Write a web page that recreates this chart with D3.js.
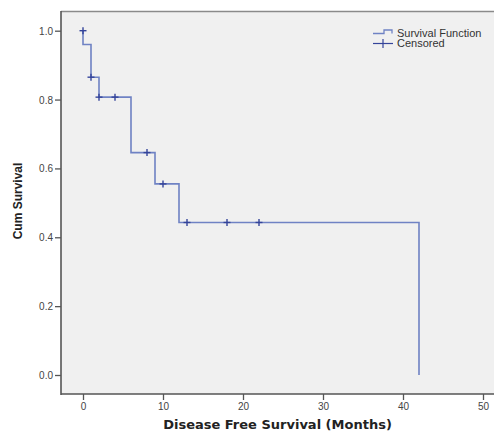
<!DOCTYPE html>
<html>
<head>
<meta charset="utf-8">
<script src="https://cdn.jsdelivr.net/npm/d3@7"></script>
<style>
  body { margin: 0; background: #fff; }
  svg { display: block; font-family: "Liberation Sans", Arial, sans-serif; }
</style>
</head>
<body>
<svg id="chart" width="494" height="432"></svg>
<script>
// Kaplan-Meier steps
const eventTimes = [0, 1, 2, 6, 9, 12, 42];
const survAfter = [0.96, 0.865, 0.807, 0.646, 0.555, 0.443, 0.0];
const censorTimes = [0, 1, 2, 4, 8, 10, 13, 18, 22];
const censorSurv = [1.0, 0.865, 0.807, 0.807, 0.646, 0.555, 0.443, 0.443, 0.443];
const xTicks = [0, 10, 20, 30, 40, 50];
const yTicks = [0.0, 0.2, 0.4, 0.6, 0.8, 1.0];

const svg = d3.select("#chart");

const x = d3.scaleLinear().domain([0, 50]).range([83, 483]);
const y = d3.scaleLinear().domain([0, 1]).range([375, 30.7]);

const plotLeft = 61, plotTop = 11, plotBottom = 394, plotRight = 500;

// plot background
svg.append("rect")
  .attr("x", plotLeft).attr("y", plotTop)
  .attr("width", plotRight - plotLeft).attr("height", plotBottom - plotTop)
  .attr("fill", "#f0f0f0");

svg.append("line")
  .attr("x1", plotLeft).attr("x2", plotRight)
  .attr("y1", plotTop + 0.5).attr("y2", plotTop + 0.5)
  .attr("stroke", "#8a8a8a").attr("stroke-width", 1.5);

// axes
const yAxis = svg.append("g")
  .attr("transform", `translate(${plotLeft},0)`)
  .call(d3.axisLeft(y).tickValues(yTicks).tickFormat(d3.format(".1f")).tickSize(6).tickSizeOuter(0));
const xAxis = svg.append("g")
  .attr("transform", `translate(0,${plotBottom})`)
  .call(d3.axisBottom(x).tickValues(xTicks).tickSize(6).tickSizeOuter(0));

[xAxis, yAxis].forEach(a => {
  a.select(".domain").remove();
  a.selectAll(".tick line").attr("stroke", "#555").attr("stroke-width", 1.3);
  a.selectAll(".tick text")
    .attr("fill", "#444")
    .style("font-size", "10px")
    .style("font-family", "'Liberation Sans', Arial, sans-serif");
});
yAxis.selectAll(".tick text").attr("x", -8).attr("dy", "0.35em");
xAxis.selectAll(".tick text").attr("y", 9);

// axis frame lines
svg.append("line")
  .attr("x1", plotLeft).attr("x2", plotLeft).attr("y1", plotTop).attr("y2", plotBottom + 1)
  .attr("stroke", "#555").attr("stroke-width", 1.6);
svg.append("line")
  .attr("x1", plotLeft).attr("x2", plotRight).attr("y1", plotBottom).attr("y2", plotBottom)
  .attr("stroke", "#555").attr("stroke-width", 1.6);

// survival step line
const steps = [[0, 1.0]].concat(eventTimes.map((t, i) => [t, survAfter[i]]));
const line = d3.line()
  .x(d => x(d[0]))
  .y(d => y(d[1]))
  .curve(d3.curveStepAfter);

svg.append("path")
  .datum(steps)
  .attr("d", line)
  .attr("fill", "none")
  .attr("stroke", "#6f82c4")
  .attr("stroke-width", 1.6);

// censored marks
const cs = 3.5;
const marks = svg.append("g")
  .selectAll("g")
  .data(censorTimes.map((t, i) => [t, censorSurv[i]]))
  .enter()
  .append("g")
  .attr("transform", d => `translate(${x(d[0])},${y(d[1])})`)
  .attr("stroke", "#34449a")
  .attr("stroke-width", 1.4);
marks.append("line").attr("x1", -cs).attr("x2", cs);
marks.append("line").attr("y1", -cs).attr("y2", cs);

// legend
const lg = svg.append("g").attr("transform", "translate(373,0)");
lg.append("path")
  .attr("d", "M0,33.5H11V30H19V33.5")
  .attr("fill", "none").attr("stroke", "#6f82c4").attr("stroke-width", 1.3);
lg.append("line").attr("x1", 0).attr("x2", 20).attr("y1", 43.5).attr("y2", 43.5)
  .attr("stroke", "#34449a").attr("stroke-width", 1.2);
lg.append("line").attr("x1", 10).attr("x2", 10).attr("y1", 39).attr("y2", 48)
  .attr("stroke", "#34449a").attr("stroke-width", 1.2);
lg.append("text").attr("x", 24).attr("y", 36.5)
  .attr("fill", "#333").style("font-size", "11px").text("Survival Function");
lg.append("text").attr("x", 24).attr("y", 47)
  .attr("fill", "#333").style("font-size", "11px").text("Censored");

// axis titles
svg.append("text")
  .attr("x", (plotLeft + 494) / 2).attr("y", 429)
  .attr("text-anchor", "middle")
  .style("font-family", "'DejaVu Sans', Verdana, sans-serif")
  .style("font-size", "13px").style("font-weight", "bold")
  .attr("fill", "#222")
  .text("Disease Free Survival (Months)");

svg.append("text")
  .attr("transform", "translate(22,201) rotate(-90)")
  .attr("text-anchor", "middle")
  .style("font-size", "12px").style("font-weight", "bold")
  .attr("fill", "#222")
  .text("Cum Survival");
</script>
</body>
</html>
